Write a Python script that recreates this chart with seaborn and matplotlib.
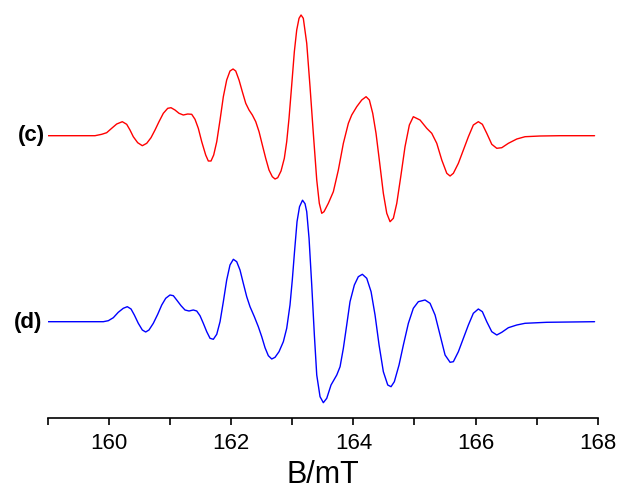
import matplotlib
matplotlib.use('Agg')
import matplotlib.pyplot as plt
import pandas as pd
import seaborn as sns

sns.set_style('white')
plt.rcParams['font.family'] = ['Liberation Sans', 'DejaVu Sans']
plt.rcParams['text.color'] = 'black'

# spectrum (c): field in mT, intensity in arb. units
field_c = [159.0, 159.767, 159.877, 159.958, 160.040, 160.122, 160.214, 160.286, 160.340,
           160.394, 160.466, 160.542, 160.614, 160.684, 160.750, 160.815, 160.886, 160.958,
           161.012, 161.077, 161.143, 161.213, 161.285, 161.351, 161.405, 161.459, 161.515,
           161.580, 161.623, 161.667, 161.711, 161.761, 161.815, 161.869, 161.924, 161.978,
           162.028, 162.072, 162.126, 162.180, 162.236, 162.290, 162.344, 162.400, 162.454,
           162.508, 162.563, 162.617, 162.671, 162.716, 162.760, 162.814, 162.868, 162.907,
           162.945, 162.989, 163.032, 163.071, 163.109, 163.142, 163.179, 163.235, 163.289,
           163.343, 163.399, 163.441, 163.481, 163.518, 163.589, 163.671, 163.753, 163.835,
           163.917, 163.972, 164.054, 164.136, 164.207, 164.261, 164.316, 164.370, 164.424,
           164.490, 164.546, 164.600, 164.654, 164.710, 164.775, 164.845, 164.916, 164.981,
           165.091, 165.201, 165.283, 165.365, 165.447, 165.529, 165.583, 165.637, 165.719,
           165.801, 165.883, 165.964, 166.046, 166.112, 166.184, 166.266, 166.348, 166.430,
           166.538, 166.676, 166.811, 167.057, 167.385, 167.95]
signal_c = [0, 0, 1.4, 3.0, 7.4, 11.7, 14.0, 11.4, 5.7,
            -1.0, -7.0, -10.0, -7.6, -2.0, 5.7, 14.0, 22.4, 27.4,
            28.0, 25.7, 22.4, 20.7, 21.7, 21.4, 16.4, 7.4, -6.0,
            -19.3, -25.3, -25.3, -19.3, -6.0, 15.7, 39.0, 55.7, 64.7,
            66.7, 64.7, 55.7, 44.0, 32.4, 25.7, 20.7, 14.0, 4.0,
            -9.3, -22.6, -34.3, -41.0, -43.3, -42.0, -35.3, -22.6, -6.0,
            17.4, 50.7, 84.0, 105.7, 117.4, 120.7, 117.4, 92.4, 49.0,
            2.4, -44.3, -67.6, -77.6, -76.0, -67.6, -56.0, -34.3, -7.6,
            12.4, 20.7, 29.0, 35.7, 39.0, 35.7, 22.4, 2.4, -24.3,
            -57.6, -77.6, -86.0, -82.6, -67.6, -41.0, -11.0, 10.7, 19.0,
            15.7, 7.4, 2.4, -7.6, -24.3, -37.6, -40.3, -37.6, -27.6,
            -14.3, -1.0, 10.7, 14.0, 11.4, 2.4, -8.6, -12.6, -12.0,
            -7.6, -3.3, -1.0, -0.3, 0, 0]

# spectrum (d)
field_d = [159.0, 159.903, 159.985, 160.067, 160.148, 160.230, 160.296, 160.357, 160.411,
           160.476, 160.542, 160.597, 160.651, 160.722, 160.794, 160.860, 160.925, 160.995,
           161.050, 161.105, 161.176, 161.241, 161.307, 161.377, 161.433, 161.487, 161.541,
           161.597, 161.651, 161.705, 161.761, 161.815, 161.869, 161.924, 161.978, 162.033,
           162.088, 162.142, 162.196, 162.252, 162.306, 162.377, 162.442, 162.498, 162.552,
           162.606, 162.662, 162.716, 162.781, 162.852, 162.907, 162.961, 162.999, 163.035,
           163.076, 163.117, 163.166, 163.207, 163.235, 163.273, 163.317, 163.360, 163.399,
           163.453, 163.507, 163.563, 163.633, 163.727, 163.781, 163.835, 163.890, 163.944,
           164.015, 164.080, 164.146, 164.218, 164.289, 164.354, 164.420, 164.490, 164.562,
           164.616, 164.670, 164.747, 164.818, 164.900, 164.981, 165.063, 165.173, 165.255,
           165.337, 165.419, 165.501, 165.583, 165.637, 165.719, 165.801, 165.883, 165.964,
           166.046, 166.112, 166.184, 166.266, 166.348, 166.430, 166.538, 166.676, 166.811,
           167.167, 167.95]
signal_d = [0, 0, 1.0, 4.0, 9.4, 13.4, 15.0, 12.7, 6.7,
            -1.6, -8.3, -10.3, -8.3, -1.6, 7.4, 16.7, 23.4, 26.7,
            26.0, 21.7, 16.0, 11.7, 10.7, 11.7, 10.7, 6.0, -1.6,
            -10.0, -16.6, -17.6, -12.6, 0, 20.0, 41.7, 56.7, 62.4,
            60.0, 51.7, 38.4, 25.0, 15.0, 5.0, -5.0, -15.0, -26.0,
            -34.0, -37.3, -35.6, -30.0, -20.0, -6.6, 16.7, 42.0, 70.0,
            100.0, 115.0, 121.5, 118.0, 110.0, 83.4, 36.7, -13.3, -53.3,
            -75.0, -81.0, -76.6, -63.3, -53.3, -45.0, -26.6, -3.3, 20.0,
            36.7, 45.0, 47.4, 43.4, 30.0, 6.7, -23.3, -50.0, -63.3,
            -65.0, -60.0, -43.3, -23.3, -1.6, 13.4, 20.0, 21.7, 18.4,
            6.7, -13.3, -33.3, -40.6, -40.0, -30.0, -16.6, -3.3, 8.4,
            12.7, 10.0, 0, -10.0, -13.3, -10.6, -6.0, -3.3, -1.6,
            -0.6, 0]

offset_c = 186
major_ticks = [160, 162, 164, 166, 168]
minor_ticks = [159, 161, 163, 165, 167]

df_c = pd.DataFrame({'B': field_c, 'I': [v + offset_c for v in signal_c]})
df_d = pd.DataFrame({'B': field_d, 'I': signal_d})

fig = plt.figure(figsize=(6.17, 4.91), dpi=100)
ax = fig.add_axes([0.0781, 0.1493, 0.8905, 0.8405])

sns.lineplot(data=df_c, x='B', y='I', sort=False, color='red', lw=1.0, ax=ax)
sns.lineplot(data=df_d, x='B', y='I', sort=False, color='blue', lw=1.0, ax=ax)

ax.set_xlim(159, 168)
ax.set_ylim(-96, 316.7)
ax.set_xticks(major_ticks)
ax.set_xticks(minor_ticks, minor=True)
ax.set_yticks([])
ax.tick_params(axis='x', which='both', direction='out', length=5, width=1.2,
               bottom=True, labelsize=16, pad=6, colors='black')
for side in ['top', 'right', 'left']:
    ax.spines[side].set_visible(False)
ax.spines['bottom'].set_linewidth(1.2)
ax.spines['bottom'].set_color('black')
ax.set_ylabel('')
ax.set_xlabel('B/mT', fontsize=22, labelpad=4, color='black')

fig.text(0.073, 0.7236, '(c)', ha='right', va='center', fontsize=16, fontweight='bold')
fig.text(0.068, 0.3428, '(d)', ha='right', va='center', fontsize=16, fontweight='bold')

fig.savefig('out.png', dpi=100)
